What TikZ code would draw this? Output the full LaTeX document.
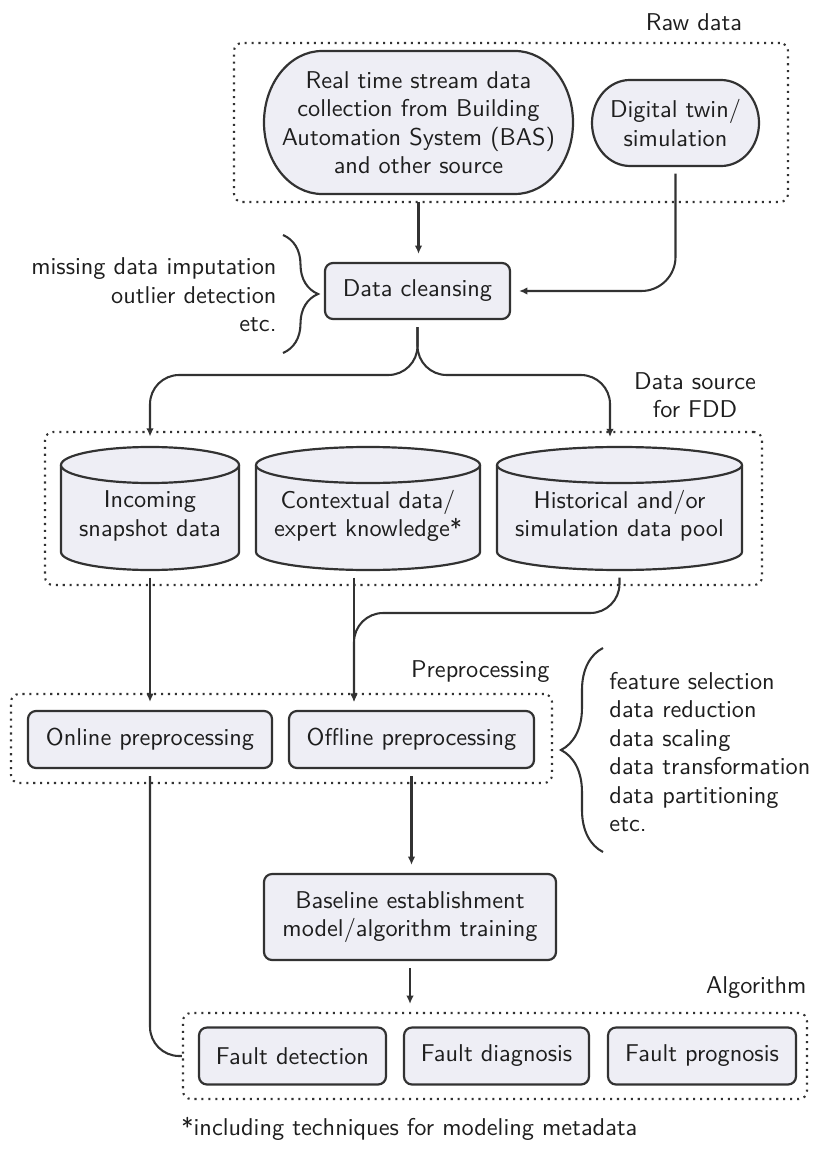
\documentclass[tikz,border=0pt]{standalone}
\usetikzlibrary{arrows.meta,decorations.pathreplacing}
\definecolor{boxfill}{RGB}{238,238,245}
\definecolor{bord}{RGB}{50,50,50}
\definecolor{txt}{RGB}{30,30,30}
% cylinder: #1 name, #2 cx (px), #3 half width (px), #4 half width (pt), #5 text
\newcommand{\mycyl}[5]{%
  \fill[boxfill] ({#2-#3},465) rectangle ({#2+#3},552);
  \fill[boxfill] (#2,552) ellipse [x radius=#4, y radius=7.41pt];
  \draw[bline] ({#2-#3},465) -- ({#2-#3},552) arc[start angle=180, end angle=360, x radius=#4, y radius=7.41pt] -- ({#2+#3},465);
  \draw[bline, fill=boxfill] (#2,465) ellipse [x radius=#4, y radius=7.41pt];
  \node[inner sep=0pt, minimum width={2*#3*0.41152pt}, minimum height={123*0.41152pt}] (#1) at (#2,508.5) {};
  \node[lbl] (#1t) at (#2,516) {#5};
}
\begin{document}
\begin{tikzpicture}[x=0.41152pt, y=-0.41152pt,
  every node/.style={font=\sffamily\fontsize{10}{11.7}\selectfont, text=txt},
  sz/.style 2 args={minimum width={#1*0.41152pt}, minimum height={#2*0.41152pt}},
  bline/.style={draw=bord, line width=0.9pt},
  box/.style={bline, fill=boxfill, rounded corners=3.3pt, inner sep=0pt, align=center},
  grp/.style={draw=bord, line width=0.85pt, dotted, rounded corners=3.3pt, inner sep=0pt},
  lbl/.style={inner sep=0pt, align=center},
  conn/.style={draw=bord, line width=0.85pt, shorten <=2.9pt},
  arr/.style={conn, -{Latex[length=3.4pt,width=3.1pt]}, shorten >=3.3pt},
  brc/.style={draw=bord, line width=0.85pt, decorate, decoration={brace, amplitude=#1}},
]
\useasboundingbox (0,0) rectangle (813,1149);

% ---------- Raw data ----------
\node[lbl] (rawlbl) at (694,22) {Raw data};
\node[grp, sz={554}{159}] (rawbox) at (511,122.5) {};
\draw[bline, fill=boxfill] (322,51) -- (515,51)
  arc[start angle=90, end angle=-90, x radius=23.87pt, y radius=29.42pt] -- (322,194)
  arc[start angle=270, end angle=90, x radius=23.87pt, y radius=29.42pt] -- cycle;
\node[lbl, sz={309}{143}] (bas) at (418.5,122.5) {Real time stream data\\collection from Building\\Automation System (BAS)\\and other source};
\draw[bline, fill=boxfill] (630,80) -- (721,80)
  arc[start angle=90, end angle=-90, x radius=15.64pt, y radius=17.70pt] -- (630,166)
  arc[start angle=270, end angle=90, x radius=15.64pt, y radius=17.70pt] -- cycle;
\node[lbl, sz={167}{86}] (twin) at (675.5,123) {Digital twin/\\simulation};

% ---------- Data cleansing ----------
\node[box, sz={185}{56}] (clean) at (417.5,291) {Data cleansing};
\draw[brc=14.4pt] (283,235) -- (283,353);
\node[lbl, anchor=east, align=right] (clntxt) at (277,295) {missing data imputation\\outlier detection\\etc.};
\draw[arr] (bas.south) -- (bas.south |- clean.north);
\draw[arr, rounded corners=14pt] (twin.south) -- (twin.south |- clean.east) -- (clean.east);

% ---------- Data source ----------
\node[lbl] (dslbl) at (695,395) {Data source\\for FDD};
\node[grp, sz={717}{153}] (dsbox) at (403.5,508.5) {};
\mycyl{cyl1}{150}{89}{36.63pt}{Incoming\\snapshot data}
\mycyl{cyl2}{368}{112}{46.09pt}{Contextual data/\\expert knowledge*}
\mycyl{cyl3}{619.5}{122.5}{50.41pt}{Historical and/or\\simulation data pool}

\coordinate (sm) at (417.5,375);
\coordinate (s1) at (150,375);
\coordinate (s3) at (610,375);
\coordinate (h3) at (610,447);
\draw[arr, rounded corners=12pt, shorten >=4.1pt] (clean.south) -- (sm) -- (s1) -- (cyl1.north);
\draw[arr, rounded corners=12pt, shorten >=4.1pt] (clean.south) -- (sm) -- (s3) -- (h3);

% ---------- Preprocessing ----------
\node[lbl, anchor=east] (pplbl) at (550,672) {Preprocessing};
\node[grp, sz={541}{89}] (ppbox) at (281.5,738.5) {};
\node[box, sz={244}{57}] (online) at (150,739.5) {Online preprocessing};
\node[box, sz={245}{57}] (offline) at (411.5,739.5) {Offline preprocessing};
\draw[brc=17.3pt] (603,852) -- (603,648);
\node[lbl, anchor=west, align=left] (pptxt) at (609,752) {feature selection\\data reduction\\data scaling\\data transformation\\data partitioning\\etc.};

\coordinate (k) at (354,0);
\coordinate (m3) at (619.5,613);
\coordinate (m2) at (354,613);
\draw[arr] (cyl1.south) -- (online.north);
\draw[arr] (cyl2.south -| k) -- (offline.north -| k);
\draw[arr, rounded corners=12pt] (cyl3.south) -- (m3) -- (m2) -- (offline.north -| k);

% ---------- Baseline & algorithm ----------
\node[box, sz={292}{86}] (base) at (410,917) {Baseline establishment\\model/algorithm training};
\draw[arr] (offline.south) -- (offline.south |- base.north);
\node[lbl, anchor=east] (alglbl) at (807,988) {Algorithm};
\node[grp, sz={624}{86}] (algbox) at (495,1056) {};
\node[box, sz={187}{57}] (fd) at (292.5,1056) {Fault detection};
\node[box, sz={185}{57}] (fdg) at (496.5,1056) {Fault diagnosis};
\node[box, sz={188}{57}] (fpg) at (702,1056) {Fault prognosis};
\draw[arr] (base.south) -- (base.south |- algbox.north);
\draw[conn, rounded corners=12pt] (online.south) -- (online.south |- algbox.west) -- (algbox.west);

\node[lbl, anchor=west] (foot) at (181,1129) {*including techniques for modeling metadata};
\end{tikzpicture}
\end{document}
